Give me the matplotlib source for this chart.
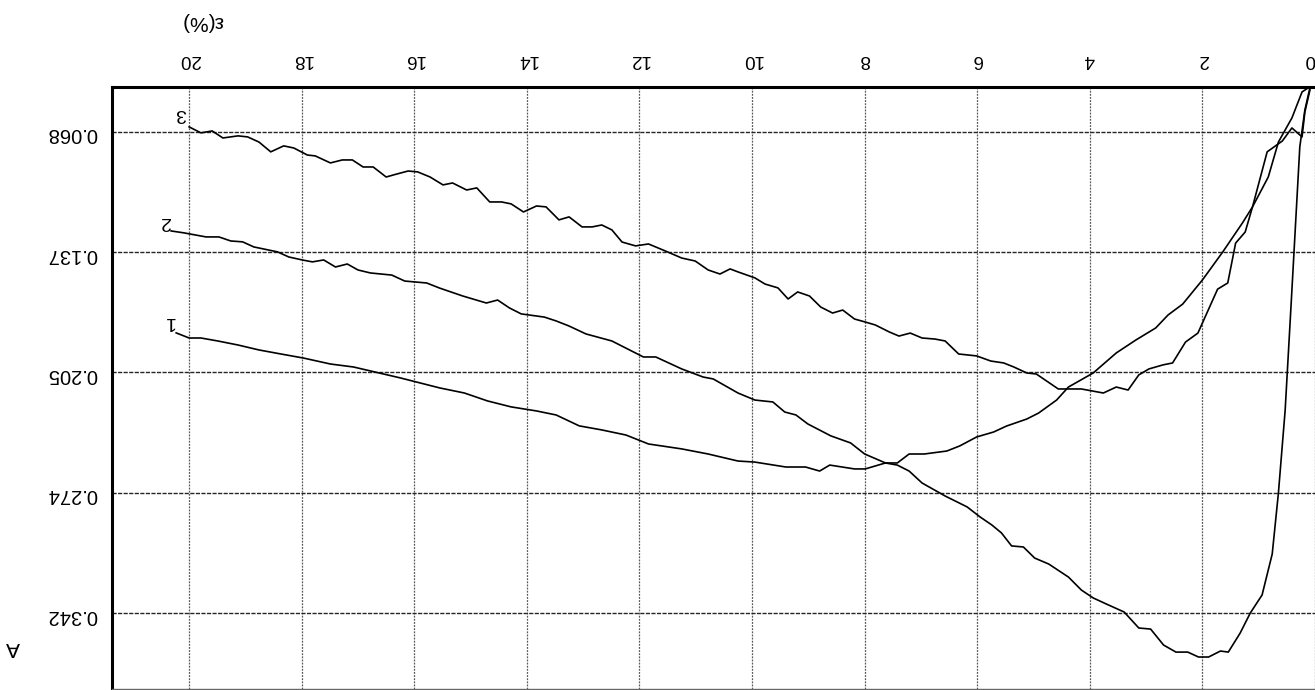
import matplotlib
matplotlib.use('Agg')
import matplotlib.pyplot as plt


# strain (%) and A for each curve
eps_1 = [20.23, 20.00, 19.79, 19.49, 19.13, 18.76, 18.37, 17.97, 17.49, 17.08,
		 16.25, 15.55, 15.11, 14.70, 14.28, 13.83, 13.48, 13.07, 12.67, 12.24,
		 11.84, 11.25, 10.78, 10.25, 9.95, 9.40, 9.05, 8.80, 8.62, 8.18,
		 7.99, 7.63, 7.42, 7.21, 6.94, 6.54, 6.31, 6.01, 5.71, 5.48,
		 5.12, 4.91, 4.59, 4.38, 3.94, 3.53, 3.18, 2.83, 2.61, 2.35,
		 2.00, 1.64, 1.29, 1.11, 0.83, 0.65, 0.41, 0.23, 0.12]
a_1 = [0.1830, 0.1859, 0.1859, 0.1876, 0.1899, 0.1927, 0.1950, 0.1973, 0.2007, 0.2024,
	   0.2086, 0.2143, 0.2172, 0.2217, 0.2251, 0.2274, 0.2297, 0.2359, 0.2382, 0.2411,
	   0.2462, 0.2490, 0.2519, 0.2559, 0.2565, 0.2593, 0.2593, 0.2616, 0.2582, 0.2604,
	   0.2604, 0.2570, 0.2570, 0.2519, 0.2519, 0.2502, 0.2473, 0.2422, 0.2394, 0.2360,
	   0.2320, 0.2286, 0.2212, 0.2138, 0.2058, 0.1944, 0.1870, 0.1802, 0.1728, 0.1666,
	   0.1529, 0.1370, 0.1205, 0.1113, 0.0943, 0.0744, 0.0607, 0.0459, 0.0436]

eps_2 = [20.32, 20.09, 19.70, 19.47, 19.26, 19.05, 18.85, 18.43, 18.23, 17.99,
		 17.81, 17.61, 17.40, 17.19, 17.00, 16.78, 16.40, 16.17, 15.78, 15.55,
		 15.14, 14.72, 14.52, 14.31, 14.10, 13.69, 13.48, 13.25, 12.95, 12.49,
		 12.14, 11.93, 11.71, 11.25, 10.87, 10.69, 10.25, 9.95, 9.63, 9.42,
		 9.22, 9.01, 8.60, 8.25, 8.00, 7.63, 7.42, 7.21, 6.98, 6.57,
		 6.18, 5.95, 5.74, 5.57, 5.39, 5.18, 4.98, 4.73, 4.38, 4.15,
		 3.94, 3.71, 3.39, 3.13, 2.92, 2.69, 2.47, 2.26, 2.07, 1.89,
		 1.68, 1.54, 1.33, 1.15, 0.94, 0.76, 0.65, 0.53, 0.42, 0.27,
		 0.18, 0.09]
a_2 = [0.1250, 0.1261, 0.1284, 0.1284, 0.1307, 0.1312, 0.1341, 0.1369, 0.1398, 0.1415,
	   0.1426, 0.1415, 0.1455, 0.1438, 0.1472, 0.1489, 0.1501, 0.1535, 0.1546, 0.1575,
	   0.1620, 0.1660, 0.1643, 0.1688, 0.1722, 0.1740, 0.1762, 0.1791, 0.1836, 0.1876,
	   0.1933, 0.1967, 0.1967, 0.2035, 0.2081, 0.2092, 0.2172, 0.2212, 0.2223, 0.2280,
	   0.2297, 0.2348, 0.2416, 0.2456, 0.2519, 0.2570, 0.2582, 0.2616, 0.2684, 0.2758,
	   0.2820, 0.2877, 0.2923, 0.2968, 0.3042, 0.3048, 0.3111, 0.3145, 0.3219, 0.3293,
	   0.3338, 0.3372, 0.3418, 0.3509, 0.3515, 0.3606, 0.3646, 0.3646, 0.3674, 0.3674,
	   0.3640, 0.3646, 0.3538, 0.3424, 0.3321, 0.3088, 0.2741, 0.2269, 0.1643, 0.0772,
	   0.0562, 0.0436]

eps_3 = [20.00, 19.79, 19.59, 19.40, 19.13, 18.96, 18.76, 18.55, 18.32, 18.14,
		 17.90, 17.76, 17.49, 17.28, 17.10, 16.91, 16.73, 16.50, 16.31, 16.11,
		 15.94, 15.72, 15.49, 15.32, 15.07, 14.89, 14.66, 14.45, 14.28, 14.06,
		 13.83, 13.66, 13.43, 13.25, 13.02, 12.84, 12.67, 12.49, 12.31, 12.07,
		 11.84, 11.54, 11.25, 11.01, 10.78, 10.57, 10.39, 10.25, 9.95, 9.77,
		 9.54, 9.36, 9.19, 8.98, 8.78, 8.57, 8.39, 8.18, 7.99, 7.81,
		 7.56, 7.39, 7.19, 6.98, 6.75, 6.57, 6.33, 6.01, 5.76, 5.53,
		 5.35, 5.12, 4.95, 4.56, 4.15, 3.76, 3.53, 3.32, 3.13, 2.95,
		 2.70, 2.53, 2.30, 2.08, 1.73, 1.55, 1.41, 1.24, 1.11, 0.85,
		 0.58, 0.41, 0.23, 0.18, 0.09]
a_3 = [0.0658, 0.0692, 0.0681, 0.0721, 0.0709, 0.0715, 0.0744, 0.0800, 0.0766, 0.0778,
	   0.0818, 0.0823, 0.0863, 0.0846, 0.0846, 0.0886, 0.0886, 0.0943, 0.0926, 0.0909,
	   0.0914, 0.0943, 0.0988, 0.0977, 0.1017, 0.1005, 0.1085, 0.1085, 0.1096, 0.1142,
	   0.1108, 0.1113, 0.1187, 0.1170, 0.1227, 0.1227, 0.1216, 0.1244, 0.1313, 0.1335,
	   0.1324, 0.1364, 0.1404, 0.1421, 0.1472, 0.1495, 0.1466, 0.1483, 0.1517, 0.1552,
	   0.1574, 0.1637, 0.1597, 0.1620, 0.1683, 0.1717, 0.1700, 0.1751, 0.1768, 0.1785,
	   0.1825, 0.1848, 0.1831, 0.1859, 0.1865, 0.1876, 0.1950, 0.1961, 0.1990, 0.2001,
	   0.2024, 0.2058, 0.2064, 0.2149, 0.2149, 0.2172, 0.2138, 0.2155, 0.2069, 0.2035,
	   0.2012, 0.2001, 0.1882, 0.1831, 0.1581, 0.1546, 0.1319, 0.1256, 0.1113, 0.0800,
	   0.0738, 0.0664, 0.0715, 0.0573, 0.0448]

x_ticks = [0, 2, 4, 6, 8, 10, 12, 14, 16, 18, 20]
y_ticks = [0.0685, 0.137, 0.2055, 0.274, 0.3425]
y_tick_labels = ['0.068', '0.137', '0.205', '0.274', '0.342']

curve_names = ['1', '2', '3']
label_eps = [20.35, 20.44, 20.14]
label_a = [0.1768, 0.1199, 0.0579]


def main():
	plt.rcParams['font.family'] = ['Liberation Sans', 'DejaVu Sans']

	fig = plt.figure(figsize=(13.15, 6.9), dpi=100)
	# the scan is upside down: everything is drawn rotated by 180 degrees
	ax = fig.add_axes([112 / 1315, 1 / 690, 1203 / 1315, 602 / 690])

	for xs, ys in [(eps_1, a_1), (eps_2, a_2), (eps_3, a_3)]:
		ax.plot(xs, ys, color='black', lw=1.2)

	for name, lx, ly in zip(curve_names, label_eps, label_a):
		ax.text(lx, ly, name, rotation=180, fontsize=14, ha='center', va='center')

	ax.set_xlim(21.37, 0.0)
	ax.set_ylim(0.3856, 0.0431)

	ax.set_xticks(x_ticks)
	ax.set_yticks(y_ticks)
	ax.set_yticklabels(y_tick_labels)
	ax.xaxis.tick_top()
	ax.tick_params(axis='both', length=0, labelrotation=180)
	ax.tick_params(axis='x', pad=13.5, labelsize=13.5)
	ax.tick_params(axis='y', pad=10.5, labelsize=14.5)
	# the 0 label sits against the cropped right edge
	ax.get_xticklabels()[0].set_horizontalalignment('right')

	ax.xaxis.grid(True, color='0.35', linestyle=(0, (1.5, 1)), lw=0.9)
	ax.yaxis.grid(True, color='0.15', linestyle=(0, (3, 1)), lw=1.0)

	ax.spines['top'].set_linewidth(2.2)
	ax.spines['left'].set_linewidth(2.2)
	ax.spines['bottom'].set_linewidth(1.0)
	ax.spines['bottom'].set_color('0.4')
	ax.spines['right'].set_visible(False)

	fig.text(13 / 1315, 1 - 648 / 690, 'A', rotation=180, fontsize=15,
			 ha='center', va='center')
	fig.text(202 / 1315, 1 - 22 / 690, 'ε(%)', rotation=180, fontsize=15,
			 ha='center', va='center')

	fig.savefig('out.png', dpi=100)


if __name__ == "__main__":
	main()
